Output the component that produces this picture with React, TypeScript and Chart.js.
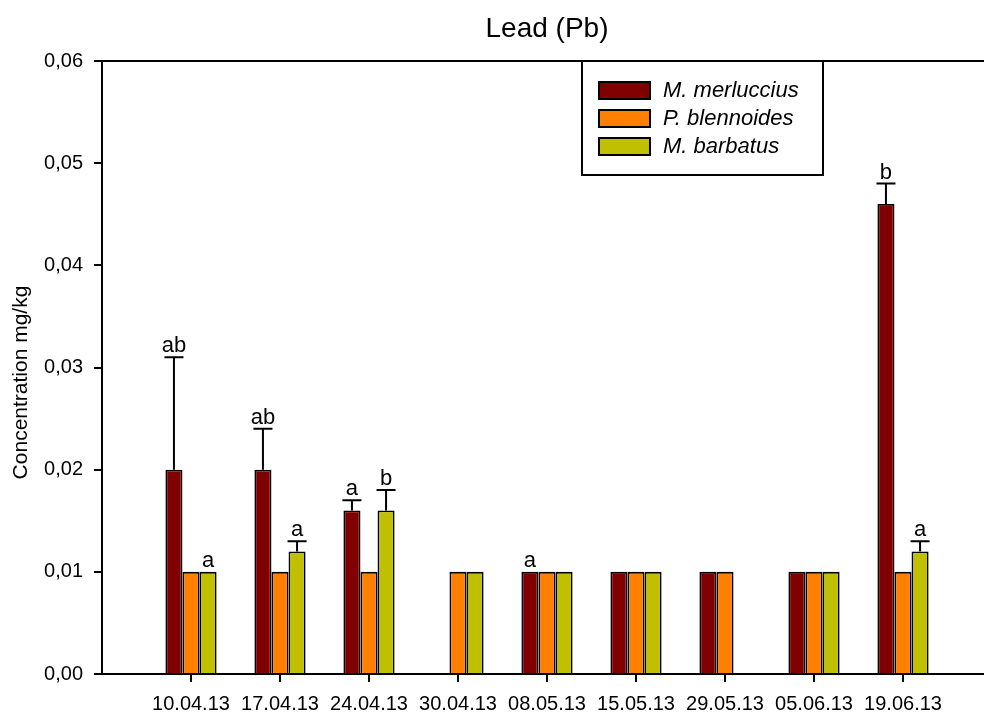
import React, { useEffect, useRef } from 'react';
import { Chart, registerables } from 'chart.js';

Chart.register(...registerables);

const chartTitle = 'Lead (Pb)';
const yAxisTitle = 'Concentration mg/kg';
const categories = ['10.04.13', '17.04.13', '24.04.13', '30.04.13', '08.05.13', '15.05.13', '29.05.13', '05.06.13', '19.06.13'];
const seriesNames = ['M. merluccius', 'P. blennoides', 'M. barbatus'];
const seriesColors = ['#800000', '#FF8000', '#C0C000'];

const merluccius = [0.020, 0.020, 0.016, null, 0.010, 0.010, 0.010, 0.010, 0.046];
const blennoides = [0.010, 0.010, 0.010, 0.010, 0.010, 0.010, 0.010, 0.010, 0.010];
const barbatus = [0.010, 0.012, 0.016, 0.010, 0.010, 0.010, null, 0.010, 0.012];

const merlucciusErr = [0.011, 0.004, 0.001, null, null, null, null, null, 0.002];
const blennoidesErr = [null, null, null, null, null, null, null, null, null];
const barbatusErr = [null, 0.001, 0.002, null, null, null, null, null, 0.001];

const merlucciusLetters = ['ab', 'ab', 'a', '', 'a', '', '', '', 'b'];
const blennoidesLetters = ['', '', '', '', '', '', '', '', ''];
const barbatusLetters = ['a', 'a', 'b', '', '', '', '', '', 'a'];

const yTickValues = [0, 0.01, 0.02, 0.03, 0.04, 0.05, 0.06];

const FONT = "'Liberation Sans', Arial, sans-serif";

export default function App() {
  const ref = useRef<HTMLCanvasElement | null>(null);

  useEffect(() => {
    const canvas = ref.current;
    if (!canvas) return;
    const values = [merluccius, blennoides, barbatus];
    const errs = [merlucciusErr, blennoidesErr, barbatusErr];
    const letters = [merlucciusLetters, blennoidesLetters, barbatusLetters];

    const datasets = values.map((vals, d) => ({
      label: seriesNames[d],
      data: vals.map((v, i) => ({ x: i, y: v })),
      backgroundColor: seriesColors[d],
      borderColor: '#000',
      borderWidth: 1.8,
      categoryPercentage: 0.575,
      barPercentage: 1.0,
    }));

    const decorPlugin = {
      id: 'decor',
      afterDatasetsDraw(chart: any) {
        const ctx = chart.ctx;
        const ys = chart.scales.y;
        ctx.save();
        datasets.forEach((_, d) => {
          const meta = chart.getDatasetMeta(d);
          meta.data.forEach((el: any, i: number) => {
            const v = values[d][i];
            if (v === null || v === undefined) return;
            let topY = el.y;
            const e = errs[d][i];
            if (e !== null && e !== undefined) {
              const ey = ys.getPixelForValue(v + e);
              ctx.strokeStyle = '#000';
              ctx.lineWidth = 2;
              ctx.beginPath();
              ctx.moveTo(el.x, el.y);
              ctx.lineTo(el.x, ey);
              ctx.moveTo(el.x - el.width / 2 - 1, ey);
              ctx.lineTo(el.x + el.width / 2 + 1, ey);
              ctx.stroke();
              topY = ey;
            }
            const lt = letters[d][i];
            if (lt) {
              ctx.fillStyle = '#000';
              ctx.font = `22px ${FONT}`;
              ctx.textAlign = 'center';
              ctx.textBaseline = 'alphabetic';
              ctx.fillText(lt, el.x, topY - 5);
            }
          });
        });
        ctx.restore();
      },
      afterDraw(chart: any) {
        const ctx = chart.ctx;
        const area = chart.chartArea;
        ctx.save();
        ctx.strokeStyle = '#000';
        ctx.lineWidth = 2;
        ctx.beginPath();
        ctx.moveTo(area.left, area.top);
        ctx.lineTo(area.right, area.top);
        ctx.stroke();

        ctx.fillStyle = '#000';
        ctx.font = `28px ${FONT}`;
        ctx.textAlign = 'center';
        ctx.textBaseline = 'alphabetic';
        ctx.fillText(chartTitle, (area.left + area.right) / 2 + 4, area.top - 24);

        ctx.save();
        ctx.translate(area.left - 75, (area.top + area.bottom) / 2 + 15);
        ctx.rotate(-Math.PI / 2);
        ctx.font = `21px ${FONT}`;
        ctx.textAlign = 'center';
        ctx.textBaseline = 'alphabetic';
        ctx.fillText(yAxisTitle, 0, 0);
        ctx.restore();

        const bx = area.left + 480;
        const by = area.top;
        const bw = 241;
        const bh = 114;
        ctx.fillStyle = '#fff';
        ctx.fillRect(bx, by, bw, bh);
        ctx.strokeStyle = '#000';
        ctx.lineWidth = 2;
        ctx.strokeRect(bx, by, bw, bh);
        seriesNames.forEach((name, k) => {
          const cy = by + 29 + k * 28;
          ctx.fillStyle = seriesColors[k];
          ctx.fillRect(bx + 17, cy - 8, 51, 17);
          ctx.strokeStyle = '#000';
          ctx.lineWidth = 2;
          ctx.strokeRect(bx + 17, cy - 8, 51, 17);
          ctx.fillStyle = '#000';
          ctx.font = `italic 22px ${FONT}`;
          ctx.textAlign = 'left';
          ctx.textBaseline = 'middle';
          ctx.fillText(name, bx + 81, cy + 1);
        });
        ctx.restore();
      },
    };

    const chart = new Chart(canvas, {
      type: 'bar',
      data: { datasets: datasets as any },
      options: {
        animation: false,
        responsive: false,
        devicePixelRatio: 1,
        layout: { padding: { top: 61, left: 0, right: 0, bottom: 0 } },
        plugins: {
          legend: { display: false },
          title: { display: false },
          tooltip: { enabled: false },
        },
        scales: {
          x: {
            type: 'linear',
            min: -1,
            max: 8.91,
            offset: false,
            grid: {
              offset: false,
              drawOnChartArea: false,
              drawTicks: true,
              tickLength: 8,
              color: '#000',
              lineWidth: 2,
            },
            border: { display: true, color: '#000', width: 2 },
            afterBuildTicks: (scale: any) => {
              scale.ticks = categories.map((_, i) => ({ value: i }));
            },
            afterFit: (scale: any) => {
              scale.height = 39;
            },
            ticks: {
              autoSkip: false,
              maxRotation: 0,
              padding: 10,
              color: '#000',
              font: { size: 20, family: FONT },
              callback: (v: any) => categories[v] ?? '',
            },
          },
          y: {
            min: 0,
            max: 0.06,
            grid: {
              drawOnChartArea: false,
              drawTicks: true,
              tickLength: 8,
              color: '#000',
              lineWidth: 2,
            },
            border: { display: true, color: '#000', width: 2 },
            afterBuildTicks: (scale: any) => {
              scale.ticks = yTickValues.map((v) => ({ value: v }));
            },
            afterFit: (scale: any) => {
              scale.width = 102;
            },
            ticks: {
              padding: 11,
              color: '#000',
              font: { size: 20, family: FONT },
              callback: (v: any) => Number(v).toFixed(2).replace('.', ','),
            },
          },
        },
      },
      plugins: [decorPlugin],
    } as any);

    return () => chart.destroy();
  }, []);

  return (
    <div style={{ position: 'absolute', left: 0, top: 0, width: 984, height: 713, background: '#fff' }}>
      <canvas ref={ref} width={984} height={713} style={{ display: 'block' }} />
    </div>
  );
}
